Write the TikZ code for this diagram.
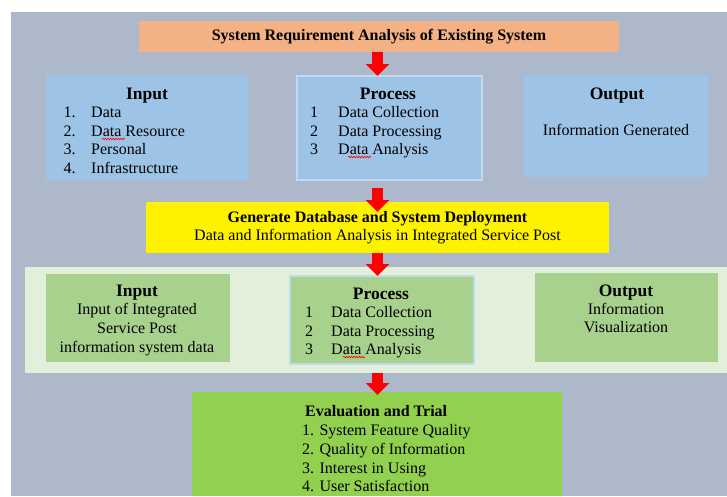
\documentclass[tikz,border=0pt]{standalone}
\usepackage{fontspec}
\setmainfont{Liberation Serif}
\usetikzlibrary{arrows.meta,decorations.pathmorphing}
\definecolor{slate}{HTML}{ADB9CA}
\definecolor{peach}{HTML}{F4B183}
\definecolor{skyblue}{HTML}{9DC3E6}
\definecolor{paleblue}{HTML}{C2DAF0}
\definecolor{palegreen}{HTML}{E2EFDA}
\definecolor{leaf}{HTML}{A9D18E}
\definecolor{lime}{HTML}{92D050}
\tikzstyle{redarrow} = [draw=red, line width=11pt, -{Triangle[width=23pt,length=12pt]}]
\tikzstyle{squiggle} = [draw=red, line width=0.6pt, decorate, decoration={snake,amplitude=0.8pt,segment length=2.6pt}]
\tikzset{
  plainbox/.style = {rectangle, inner sep=0pt, outer sep=0pt},
  bluebox/.style = {plainbox, fill=skyblue},
  greenbox/.style = {plainbox, fill=leaf},
  boxhead/.style = {anchor=base, inner sep=0pt, font=\fontsize{17.5}{20}\selectfont\bfseries},
  txt/.style = {anchor=base, inner sep=0pt, font=\fontsize{16}{19}\selectfont},
  item/.style = {txt, anchor=base west},
}
\begin{document}
\begin{tikzpicture}[x=1pt,y=-1pt]
    \useasboundingbox (0,0) rectangle (727,496);
    \fill[slate] (11,12) rectangle (727,496);
    \coordinate (axis) at (377.5,0);

    % existing system
    \node[plainbox, fill=peach, minimum width=480pt, minimum height=31pt,
          font=\fontsize{16}{19}\selectfont\bfseries] (req) at (379,36.5)
          {System Requirement Analysis of Existing System};

    \node[bluebox, minimum width=202pt, minimum height=105pt] (bin) at (147,127.5) {};
    \node[boxhead] (binh) at (147,99) {Input};
    \node[item] (bin1n) at (63.5,117) {1.};
    \node[item] (bin1) at (91,117) {Data};
    \node[item] (bin2n) at (63.5,136) {2.};
    \node[item] (bin2) at (91,136) {Data Resource};
    \node[item] (bin3n) at (63.5,154) {3.};
    \node[item] (bin3) at (91,154) {Personal};
    \node[item] (bin4n) at (63.5,173) {4.};
    \node[item] (bin4) at (91,173) {Infrastructure};

    \node[bluebox, draw=paleblue, line width=1.2pt, minimum width=185pt, minimum height=104pt] (bproc) at (389.5,128) {};
    \node[boxhead] (bproch) at (388,99) {Process};
    \node[item] (bproc1n) at (310,117) {1};
    \node[item] (bproc1) at (338,117) {Data Collection};
    \node[item] (bproc2n) at (310,136) {2};
    \node[item] (bproc2) at (338,136) {Data Processing};
    \node[item] (bproc3n) at (310,154) {3};
    \node[item] (bproc3) at (338,154) {Data Analysis};

    \node[bluebox, minimum width=184pt, minimum height=102pt] (bout) at (616,126) {};
    \node[boxhead] (bouth) at (617,99) {Output};
    \node[txt] (bout1) at (616,135) {Information Generated};

    % deployment
    \node[plainbox, fill=yellow, minimum width=463pt, minimum height=51pt, align=center,
          font=\fontsize{16}{18.5}\selectfont] (yel) at (377.5,227.5)
          {\textbf{Generate Database and System Deployment}\\Data and Information Analysis in Integrated Service Post};

    % integrated service post
    \node[plainbox, fill=palegreen, minimum width=702pt, minimum height=106pt] (panel) at (376,320) {};

    \node[greenbox, minimum width=184pt, minimum height=88pt] (gin) at (138,318) {};
    \node[boxhead] (ginh) at (137,296) {Input};
    \node[txt] (gin1) at (137,314) {Input of Integrated};
    \node[txt] (gin2) at (137,333) {Service Post};
    \node[txt] (gin3) at (137,352) {information system data};

    \node[greenbox, draw=paleblue, line width=1.2pt, minimum width=184pt, minimum height=88pt] (gproc) at (382,320) {};
    \node[boxhead] (gproch) at (381,299) {Process};
    \node[item] (gproc1n) at (305,317) {1};
    \node[item] (gproc1) at (331,317) {Data Collection};
    \node[item] (gproc2n) at (305,336) {2};
    \node[item] (gproc2) at (331,336) {Data Processing};
    \node[item] (gproc3n) at (305,354) {3};
    \node[item] (gproc3) at (331,354) {Data Analysis};

    \node[greenbox, minimum width=183pt, minimum height=89pt] (gout) at (626.5,317.5) {};
    \node[boxhead] (gouth) at (626,296) {Output};
    \node[txt] (gout1) at (626,314) {Information};
    \node[txt] (gout2) at (626,332) {Visualization};

    % evaluation
    \node[plainbox, fill=lime, minimum width=370pt, minimum height=104pt] (eval) at (377,444) {};
    \node[item, font=\fontsize{16}{19}\selectfont\bfseries] (evalh) at (305,416) {Evaluation and Trial};
    \node[item] (eval1) at (302,435) {1. System Feature Quality};
    \node[item] (eval2) at (302,454) {2. Quality of Information};
    \node[item] (eval3) at (302,473) {3. Interest in Using};
    \node[item] (eval4) at (302,491) {4. User Satisfaction};

    % spelling marks
    \path[squiggle] ([shift={(11pt,-3pt)}]bin2.base west) -- ++(23,0);
    \path[squiggle] ([shift={(10pt,-3pt)}]bproc3.base west) -- ++(23,0);
    \path[squiggle] ([shift={(12pt,-3pt)}]gproc3.base west) -- ++(22,0);

    \path[redarrow] (req.south -| axis) -- (bproc.north -| axis);
    \path[redarrow, shorten <=8pt, shorten >=-10pt] (bproc.south -| axis) -- (yel.north -| axis);
    \path[redarrow] (yel.south -| axis) -- (gproc.north -| axis);
    \path[redarrow, shorten >=-3pt] (panel.south -| axis) -- (eval.north -| axis);
\end{tikzpicture}
\end{document}
